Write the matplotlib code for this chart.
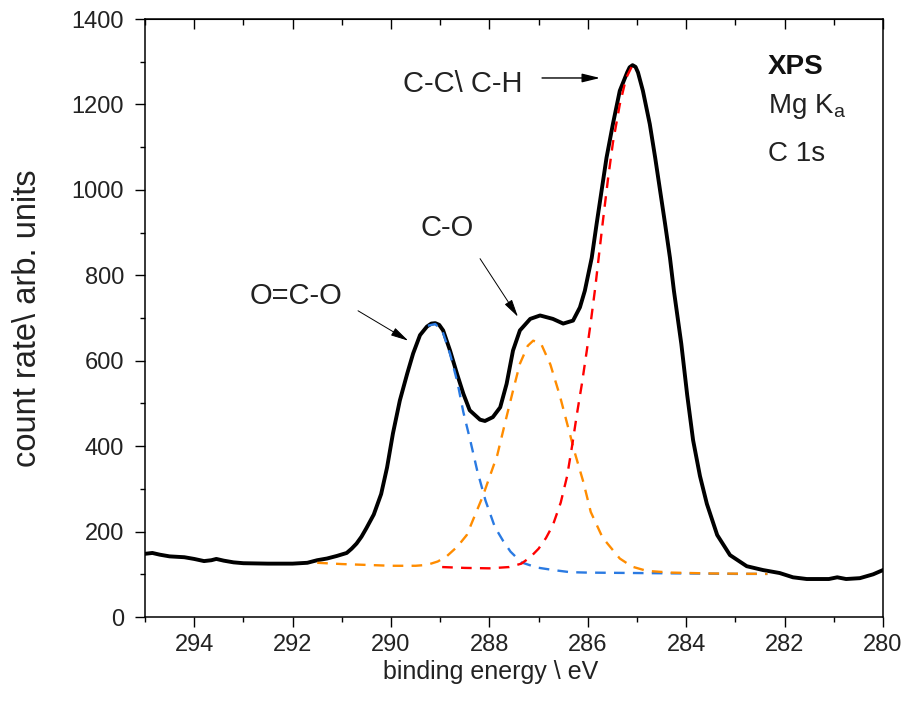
import matplotlib
matplotlib.use("Agg")
import matplotlib.pyplot as plt

plt.rcParams['font.family'] = ['Liberation Sans', 'DejaVu Sans']
plt.rcParams['mathtext.default'] = 'regular'

# measured C 1s spectrum (binding energy / eV, counts)
black_e = [295.0, 294.85, 294.7, 294.5, 294.2, 294.0, 293.8, 293.65, 293.55, 293.4,
           293.2, 293.0, 292.5, 292.0, 291.7, 291.5, 291.3, 291.1, 290.9, 290.8,
           290.7, 290.6, 290.5, 290.35, 290.2, 290.08, 289.96, 289.82, 289.67, 289.55,
           289.41, 289.27, 289.18, 289.1, 289.02, 288.94, 288.8, 288.66, 288.53, 288.4,
           288.19, 288.09, 287.93, 287.78, 287.65, 287.52, 287.38, 287.17, 286.97, 286.71,
           286.5, 286.3, 286.16, 286.06, 285.92, 285.82, 285.72, 285.62, 285.49, 285.35,
           285.2, 285.15, 285.09, 285.03, 284.98, 284.88, 284.74, 284.63, 284.53, 284.43,
           284.33, 284.25, 284.1, 283.98, 283.86, 283.72, 283.58, 283.37, 283.11, 282.77,
           282.44, 282.1, 281.83, 281.55, 281.1, 280.93, 280.75, 280.47, 280.2, 280.0]
black_v = [148, 150, 146, 142, 140, 136, 131, 133, 136, 132,
           128, 126, 125, 125, 127, 133, 137, 143, 150, 160,
           172, 188, 208, 240, 288, 350, 430, 507, 570, 617,
           660, 680, 687, 688, 684, 671, 624, 570, 523, 484,
           462, 459, 468, 491, 546, 624, 671, 698, 706, 698,
           687, 694, 725, 764, 841, 921, 998, 1075, 1154, 1232,
           1275, 1287, 1292, 1288, 1275, 1232, 1154, 1075, 998, 921,
           841, 764, 640, 520, 414, 330, 265, 192, 145, 119,
           110, 103, 93, 89, 89, 93, 89, 91, 100, 110]

# fitted components
blue_e = [289.25, 289.1, 288.95, 288.8, 288.65, 288.53, 288.39, 288.25, 288.08, 287.89,
          287.72, 287.57, 287.35, 287.04, 286.7, 286.36, 286.0, 285.0, 284.0, 283.0, 282.35]
blue_v = [682, 686, 668, 616, 550, 480, 414, 344, 273, 211,
          178, 153, 128, 116, 110, 105, 104, 103, 102, 101, 101]

orange_e = [291.5, 291.0, 290.5, 290.0, 289.5, 289.27, 289.05, 288.87, 288.65, 288.46,
            288.14, 287.84, 287.67, 287.52, 287.38, 287.22, 287.11, 286.95, 286.76, 286.57,
            286.42, 286.26, 286.09, 285.94, 285.7, 285.35, 285.1, 284.8, 284.3, 283.5, 282.35]
orange_v = [127, 124, 122, 120, 120, 122, 130, 142, 165, 192,
            281, 379, 460, 530, 593, 635, 647, 640, 591, 519,
            453, 383, 316, 246, 186, 137, 118, 108, 104, 102, 101]

red_e = [288.96, 288.5, 288.0, 287.6, 287.35, 287.17, 287.0, 286.85, 286.71, 286.55,
         286.42, 286.32, 286.22, 286.12, 286.02, 285.94, 285.85, 285.77, 285.69, 285.59,
         285.49, 285.35, 285.22, 285.1]
red_v = [117, 115, 114, 117, 125, 140, 160, 185, 215, 268,
         330, 400, 476, 546, 624, 690, 770, 850, 930, 1025,
         1110, 1200, 1262, 1290]

x_major = [294, 292, 290, 288, 286, 284, 282, 280]
x_minor = [295, 293, 291, 289, 287, 285, 283, 281]
y_major = [0, 200, 400, 600, 800, 1000, 1200, 1400]
y_minor = [100, 300, 500, 700, 900, 1100, 1300]

fig = plt.figure(figsize=(9.05, 7.13), dpi=100)
ax = fig.add_axes([0.1602, 0.1346, 0.8155, 0.8387])

ax.plot(black_e, black_v, color='black', lw=2.8, solid_joinstyle='round', zorder=2)
for e, v, c in [(blue_e, blue_v, '#2a7ae2'), (orange_e, orange_v, '#ff8c00'),
                (red_e, red_v, '#ff0000')]:
    ln, = ax.plot(e, v, color=c, lw=1.7, zorder=3)
    ln.set_dashes([4.5, 3.5])

ax.set_xlim(295, 280)
ax.set_ylim(0, 1400)
ax.set_xticks(x_major)
ax.set_xticks(x_minor, minor=True)
ax.set_yticks(y_major)
ax.set_yticks(y_minor, minor=True)
ax.tick_params(which='major', direction='out', length=7, width=1.0,
               labelsize=17, labelcolor='#222222', pad=5)
ax.tick_params(axis='y', which='major', pad=8)
ax.tick_params(which='minor', direction='out', length=3.5, width=1.0)
for s in ax.spines.values():
    s.set_linewidth(1.1)

top = ax.secondary_xaxis('top')
top.set_xticks(x_major)
top.set_xticks(x_minor, minor=True)
top.tick_params(which='major', direction='in', length=7, width=1.0, labeltop=False)
top.tick_params(which='minor', direction='in', length=4, width=1.0)

ax.set_xlabel('binding energy \\ eV', fontsize=18, color='#222222')
ax.xaxis.set_label_coords(0.469, -0.072)
ax.set_ylabel('count rate\\ arb. units', fontsize=23.5, color='#222222')
ax.yaxis.set_label_coords(-0.138, 0.5)

# peak labels
ax.text(289.76, 1229, 'C-C\\ C-H', fontsize=21, color='#222222')
ax.text(289.41, 893, 'C-O', fontsize=21, color='#222222')
ax.text(292.87, 734, 'O=C-O', fontsize=21, color='#222222')
arrows = [((286.93, 1262), (285.75, 1262), 1.0),
          ((288.19, 839), (287.42, 703), 0.7),
          ((290.67, 717), (289.65, 647), 0.7)]
for start, end, w in arrows:
    ax.annotate('', xy=end, xytext=start,
                arrowprops=dict(arrowstyle='-|>,head_length=0.9,head_width=0.22',
                                color='black', lw=w, mutation_scale=12,
                                shrinkA=0, shrinkB=0))

ax.text(282.34, 1271, 'XPS', fontsize=20, fontweight='bold', color='#111111')
ax.text(282.34, 1180, 'Mg K$_{a}$', fontsize=20, color='#222222')
ax.text(282.34, 1068, 'C 1s', fontsize=20, color='#222222')

fig.savefig('out.png', dpi=100)
